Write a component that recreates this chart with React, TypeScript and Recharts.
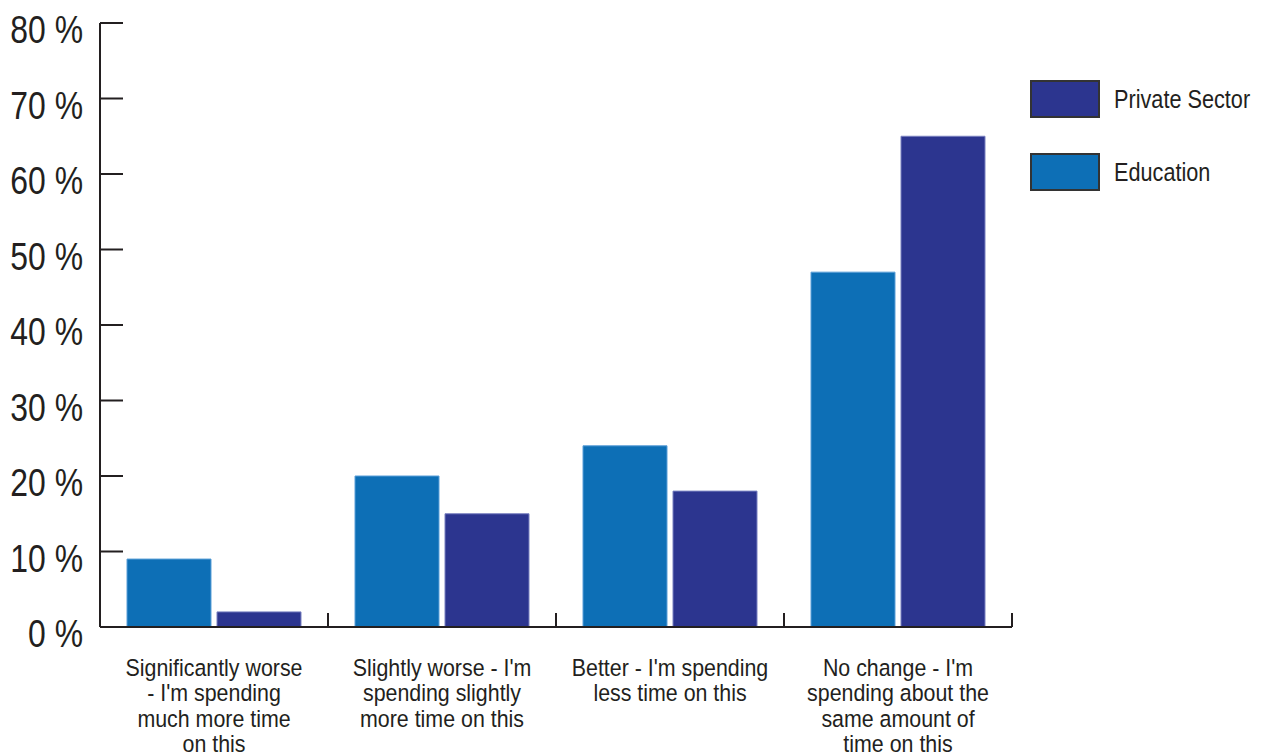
import React from "react";
import { BarChart, Bar, XAxis, YAxis, Legend } from "recharts";

// Survey answers (x categories), wrapped as they are printed under the axis
const categories = [
  "Significantly worse - I'm spending much more time on this",
  "Slightly worse - I'm spending slightly more time on this",
  "Better - I'm spending less time on this",
  "No change - I'm spending about the same amount of time on this",
];
const categoryLines = [
  ["Significantly worse", "- I'm spending", "much more time", "on this"],
  ["Slightly worse - I'm", "spending slightly", "more time on this"],
  ["Better - I'm spending", "less time on this"],
  ["No change - I'm", "spending about the", "same amount of", "time on this"],
];

// Share of respondents, in percent
const education = [9, 20, 24, 47];
const privateSector = [2, 15, 18, 65];

const yTicks = [0, 10, 20, 30, 40, 50, 60, 70, 80];

const data = categories.map((name, i) => ({
  name,
  education: education[i],
  privateSector: privateSector[i],
}));

const INK = "#231f20";
const FONT = '"Liberation Sans", Arial, Helvetica, sans-serif';
const EDU_BLUE = "#0d6fb6";
const PRIVATE_BLUE = "#2c358f";

const YTick = (props: any) => {
  const { x, y, payload } = props;
  return (
    <g>
      <line x1={x} x2={x + 23} y1={y} y2={y} stroke={INK} strokeWidth={2} />
      <text
        transform={`translate(${x - 17},${y + 20}) scale(0.84,1)`}
        textAnchor="end"
        fontSize={38}
        fontFamily={FONT}
        fill={INK}
      >
        {payload.value} %
      </text>
    </g>
  );
};

const XTick = (props: any) => {
  const { x, y, payload } = props;
  const half = typeof payload.offset === "number" && payload.offset > 0 ? payload.offset : 114;
  const idx = categories.indexOf(payload.value);
  const lines = idx >= 0 ? categoryLines[idx] : [String(payload.value)];
  return (
    <g>
      {/* boundary tick on the right edge of each category */}
      <line x1={x + half} x2={x + half} y1={y - 14} y2={y} stroke={INK} strokeWidth={2} />
      <text
        transform={`translate(${x},${y + 49}) scale(0.91,1)`}
        textAnchor="middle"
        fontSize={23.5}
        fontFamily={FONT}
        fill={INK}
      >
        {lines.map((line, i) => (
          <tspan key={i} x={0} dy={i === 0 ? 0 : 25.3}>
            {line}
          </tspan>
        ))}
      </text>
    </g>
  );
};

const legendItems = [
  { label: "Private Sector", color: PRIVATE_BLUE },
  { label: "Education", color: EDU_BLUE },
];

const LegendBox = () => (
  <div style={{ fontFamily: FONT, color: INK }}>
    {legendItems.map((item, i) => (
      <div
        key={item.label}
        style={{ display: "flex", alignItems: "center", height: 38, marginTop: i === 0 ? 0 : 35 }}
      >
        <div
          style={{
            width: 70,
            height: 38,
            flexShrink: 0,
            boxSizing: "border-box",
            border: "2px solid #333",
            background: item.color,
          }}
        />
        <span
          style={{
            marginLeft: 14,
            fontSize: 25.5,
            whiteSpace: "nowrap",
            flexShrink: 0,
            transform: "scale(0.85,1)",
            transformOrigin: "left center",
            display: "inline-block",
          }}
        >
          {item.label}
        </span>
      </div>
    ))}
  </div>
);

export default function App() {
  return (
    <>
      {/* the chart runs to the bottom edge of the window; keep scrollbars away */}
      <style>{"html, body { overflow: hidden; }"}</style>
      <BarChart
        width={1246}
        height={748}
        data={data}
        margin={{ top: 15, right: 14, left: 0, bottom: 0 }}
        barCategoryGap={27}
        barGap={6}
      >
        <XAxis
          dataKey="name"
          height={129}
          interval={0}
          tickSize={0}
          tickMargin={0}
          tickLine={false}
          axisLine={{ stroke: INK, strokeWidth: 2 }}
          tick={<XTick />}
        />
        <YAxis
          width={92}
          domain={[0, 80]}
          ticks={yTicks}
          interval={0}
          tickSize={0}
          tickMargin={0}
          tickLine={false}
          axisLine={{ stroke: INK, strokeWidth: 2 }}
          tick={<YTick />}
        />
        {/* the legend's 228px width is reserved on the right of the plot */}
        <Legend
          layout="horizontal"
          verticalAlign="middle"
          align="right"
          wrapperStyle={{ top: 72, left: 1022, width: 228 }}
          content={() => <LegendBox />}
        />
        <Bar
          dataKey="education"
          name="Education"
          fill={EDU_BLUE}
          stroke="#5a9fd8"
          strokeWidth={1}
          isAnimationActive={false}
        />
        <Bar
          dataKey="privateSector"
          name="Private Sector"
          fill={PRIVATE_BLUE}
          stroke="#7880c0"
          strokeWidth={1}
          isAnimationActive={false}
        />
      </BarChart>
    </>
  );
}
